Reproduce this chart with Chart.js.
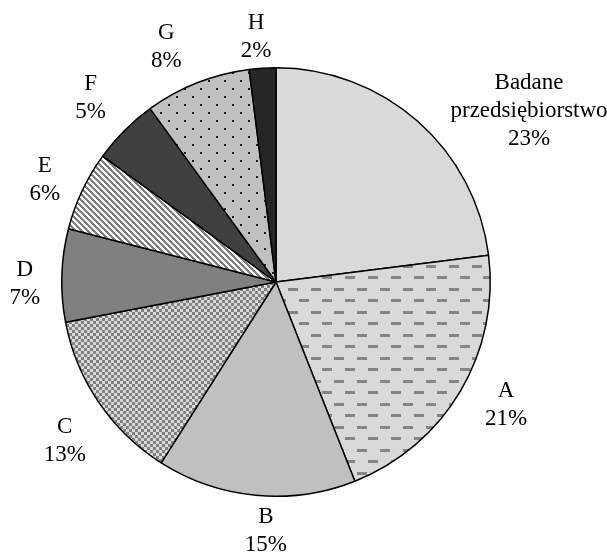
<!DOCTYPE html>
<html>
<head>
<meta charset="utf-8">
<script src="https://cdn.jsdelivr.net/npm/chart.js@4/dist/chart.umd.min.js"></script>
<style>
    body { margin: 0; background: #ffffff; }
    #pie_chart { display: block; }
</style>
</head>
<body>
<canvas id="pie_chart" width="607" height="553"></canvas>
<script>
// data
const categories = ['Badane\nprzedsiębiorstwo', 'A', 'B', 'C', 'D', 'E', 'F', 'G', 'H'];
const shares = [23, 21, 15, 13, 7, 6, 5, 8, 2];

// where each label block is centred, as multiples of the pie radius from its centre
const label_offsets = [
    [1.181, -0.800],
    [1.074, 0.572],
    [-0.047, 1.163],
    [-0.986, 0.744],
    [-1.172, 0.009],
    [-1.079, -0.474],
    [-0.865, -0.860],
    [-0.512, -1.098],
    [-0.093, -1.144]
];

function make_pattern(w, h, bg, draw) {
    let tile = document.createElement('canvas');
    tile.width = w;
    tile.height = h;
    let tctx = tile.getContext('2d');
    tctx.fillStyle = bg;
    tctx.fillRect(0, 0, w, h);
    draw(tctx);
    return tctx.createPattern(tile, 'repeat');
}

let dashes = make_pattern(23, 23, '#d9d9d9', (c) => {
    c.fillStyle = '#858585';
    c.fillRect(0, 0, 10, 3);
    c.fillRect(12, 12, 10, 3);
});

let checker = make_pattern(6, 6, '#d9d9d9', (c) => {
    c.fillStyle = '#808080';
    c.fillRect(0, 0, 3, 3);
    c.fillRect(3, 3, 3, 3);
});

let stripes = make_pattern(6, 6, '#ffffff', (c) => {
    c.fillStyle = '#808080';
    for (let x = 0; x < 6; x++) {
        for (let y = 0; y < 6; y++) {
            if ((x - y + 6) % 6 < 3) {
                c.fillRect(x, y, 1, 1);
            }
        }
    }
});

let dots = make_pattern(16, 16, '#c0c0c0', (c) => {
    c.fillStyle = '#1a1a1a';
    c.fillRect(0, 0, 2, 2);
    c.fillRect(8, 8, 2, 2);
});

const fills = ['#d9d9d9', dashes, '#c0c0c0', checker, '#808080', stripes, '#404040', dots, '#262626'];

const outside_labels = {
    id: 'outside_labels',
    afterDraw(chart) {
        let ctx = chart.ctx;
        let arcs = chart.getDatasetMeta(0).data;
        ctx.save();
        ctx.font = '23px "Liberation Serif", "Times New Roman", serif';
        ctx.fillStyle = '#000000';
        ctx.textAlign = 'center';
        ctx.textBaseline = 'middle';
        arcs.forEach((arc, i) => {
            let r = arc.outerRadius;
            let cx = arc.x + label_offsets[i][0] * r;
            let cy = arc.y + label_offsets[i][1] * r;
            let lines = categories[i].split('\n');
            lines.push(shares[i] + '%');
            let line_height = 28;
            let top = cy - (lines.length - 1) * line_height / 2;
            lines.forEach((line, k) => {
                ctx.fillText(line, cx, top + k * line_height);
            });
        });
        ctx.restore();
    }
};

let pie_canvas = document.getElementById('pie_chart');

let pie_chart = new Chart(pie_canvas, {
    type: 'pie',
    data: {
        labels: categories,
        datasets: [{
            data: shares,
            backgroundColor: fills,
            borderColor: '#000000',
            borderWidth: 1.5
        }]
    },
    options: {
        responsive: false,
        animation: false,
        layout: {
            padding: { left: 61, top: 67, right: 116, bottom: 56 }
        },
        plugins: {
            legend: { display: false },
            tooltip: { enabled: false }
        }
    },
    plugins: [outside_labels]
});
</script>
</body>
</html>
